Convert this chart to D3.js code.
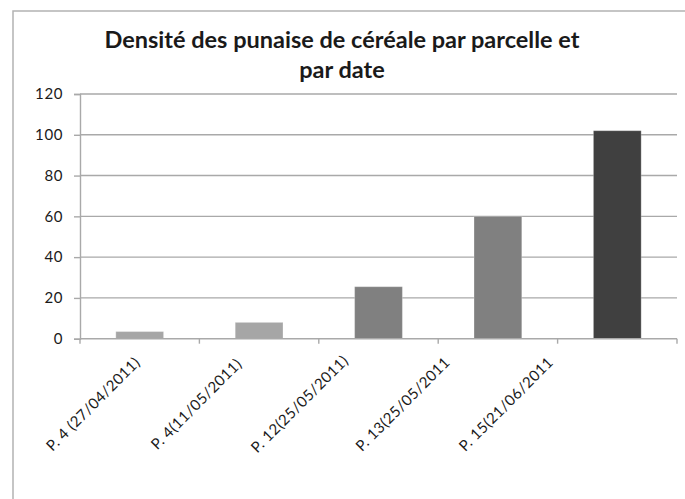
<!DOCTYPE html>
<html>
<head>
<meta charset="utf-8">
<script src="https://cdn.jsdelivr.net/npm/d3@7"></script>
<style>
  html, body { margin: 0; padding: 0; background: #fff; }
  svg { display: block; }
  text { font-family: Lato, "Open Sans", sans-serif; fill: #1a1a1a; }
</style>
</head>
<body>
<svg id="chart" width="685" height="499"></svg>
<script>
// Parcelles / dates and bug density for each
const categories = ["P. 4 (27/04/2011)", "P. 4(11/05/2011)", "P. 12(25/05/2011)", "P. 13(25/05/2011", "P. 15(21/06/2011"];
const densities = [3.5, 8, 25.5, 60, 102];
const barColors = ["#a6a6a6", "#a6a6a6", "#808080", "#808080", "#404040"];
const yTicks = [0, 20, 40, 60, 80, 100, 120];
const titleLines = ["Densité des punaise de céréale par parcelle et", "par date"];

const svg = d3.select("#chart");
const W = 685, H = 499;
const plot = { left: 80, right: 677, top: 94, bottom: 338.7 };

// outer frame
svg.append("rect")
  .attr("x", 13).attr("y", 11)
  .attr("width", W).attr("height", H)
  .attr("fill", "#fff").attr("stroke", "#b3b3b3").attr("stroke-width", 1.5);

// title
const title = svg.append("text")
  .attr("text-anchor", "middle")
  .attr("font-size", 23.5).attr("font-weight", "bold");
title.selectAll("tspan").data(titleLines).join("tspan")
  .attr("x", 342).attr("y", (d, i) => 48 + i * 30)
  .text(d => d);

const x = d3.scaleBand(categories, [plot.left, plot.right]).paddingInner(0.6).paddingOuter(0.3);
const y = d3.scaleLinear([0, 120], [plot.bottom, plot.top]);

// horizontal gridlines
svg.append("g").selectAll("line").data(yTicks.filter(t => t > 0)).join("line")
  .attr("x1", plot.left).attr("x2", plot.right)
  .attr("y1", d => y(d)).attr("y2", d => y(d))
  .attr("stroke", "#a9a9a9").attr("stroke-width", 1.4);

// y axis
const yAxis = svg.append("g")
  .attr("transform", `translate(${plot.left},0)`)
  .call(d3.axisLeft(y).tickValues(yTicks).tickSize(6).tickPadding(11));
yAxis.select(".domain").attr("stroke", "#a9a9a9").attr("stroke-width", 1.4);
yAxis.selectAll(".tick line").attr("stroke", "#a9a9a9").attr("stroke-width", 1.4);
yAxis.selectAll(".tick text")
  .attr("font-size", 15).attr("letter-spacing", 0.6)
  .style("font-family", "Lato, 'Open Sans', sans-serif").attr("fill", "#1a1a1a");

// bars
svg.append("g").selectAll("rect").data(categories).join("rect")
  .attr("x", d => x(d))
  .attr("width", x.bandwidth())
  .attr("y", (d, i) => y(densities[i]))
  .attr("height", (d, i) => y(0) - y(densities[i]))
  .attr("fill", (d, i) => barColors[i])
  .attr("stroke", "rgba(255,255,255,0.25)").attr("stroke-width", 1);

// x axis baseline and category ticks at band boundaries
const step = x.step();
const boundaries = categories.map(c => x(c) - x.paddingInner() * step / 2).concat([plot.right]);
svg.append("line")
  .attr("x1", plot.left).attr("x2", plot.right)
  .attr("y1", y(0)).attr("y2", y(0))
  .attr("stroke", "#a9a9a9").attr("stroke-width", 1.4);
svg.append("g").selectAll("line").data(boundaries).join("line")
  .attr("x1", d => d).attr("x2", d => d)
  .attr("y1", y(0)).attr("y2", y(0) + 5)
  .attr("stroke", "#a9a9a9").attr("stroke-width", 1.4);

// rotated category labels
const labelX = d3.scalePoint(categories, [93, 506]);
svg.append("g").selectAll("text").data(categories).join("text")
  .attr("transform", d => `translate(${labelX(d)},404) rotate(-45)`)
  .attr("text-anchor", "middle").attr("dy", "0.35em")
  .attr("font-size", 15).attr("letter-spacing", 0.4)
  .text(d => d);
</script>
</body>
</html>
